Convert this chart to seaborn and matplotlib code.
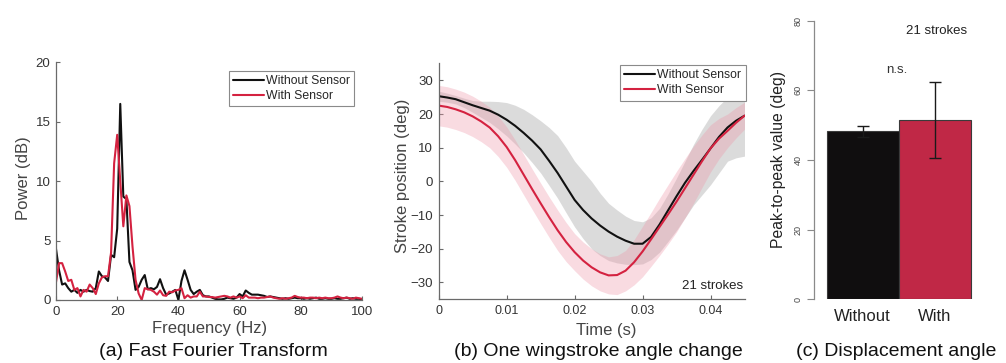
import matplotlib
matplotlib.use('Agg')
import matplotlib.pyplot as plt
import seaborn as sns

# %% Data
# (a) FFT spectrum, 1 Hz bins
freq = list(range(0, 101))
power_without = [
    4.3, 2.5, 1.3, 1.4, 1.0, 0.7, 0.85, 0.6, 0.85, 0.7,
    0.85, 0.75, 0.7, 1.0, 2.4, 2.0, 1.9, 1.6, 3.8, 3.6,
    6.0, 16.5, 8.7, 8.5, 3.2, 2.5, 0.85, 1.1, 1.7, 2.1,
    0.9, 1.0, 0.9, 1.1, 1.75, 1.0, 0.45, 0.55, 0.7, 0.85,
    0.0, 1.6, 2.5, 1.7, 0.85, 0.5, 0.7, 0.85, 0.4, 0.3,
    0.3, 0.2, 0.1, 0.05, 0.05, 0.1, 0.2, 0.15, 0.1, 0.2,
    0.5, 0.3, 0.8, 0.6, 0.45, 0.45, 0.45, 0.4, 0.35, 0.25,
    0.3, 0.25, 0.2, 0.15, 0.1, 0.15, 0.1, 0.15, 0.2, 0.15,
    0.15, 0.1, 0.15, 0.1, 0.15, 0.2, 0.1, 0.1, 0.15, 0.1,
    0.1, 0.15, 0.1, 0.1, 0.15, 0.2, 0.1, 0.15, 0.1, 0.1,
    0.05]
power_with = [
    1.5, 3.1, 3.1, 2.4, 1.6, 1.7, 0.85, 1.0, 0.3, 0.85,
    0.7, 1.3, 1.0, 0.5, 1.4, 1.9, 2.0, 2.0, 4.0, 11.5,
    13.9, 10.0, 6.2, 8.8, 7.9, 4.5, 1.7, 0.55, 0.0, 1.0,
    0.9, 0.85, 0.7, 0.45, 0.8, 0.4, 0.35, 0.7, 0.65, 0.8,
    0.85, 1.0, 0.15, 0.4, 0.2, 0.3, 0.3, 0.7, 0.3, 0.3,
    0.25, 0.25, 0.2, 0.25, 0.3, 0.35, 0.3, 0.2, 0.3, 0.2,
    0.3, 0.15, 0.4, 0.2, 0.2, 0.2, 0.15, 0.2, 0.2, 0.25,
    0.3, 0.2, 0.15, 0.1, 0.15, 0.1, 0.15, 0.2, 0.35, 0.25,
    0.2, 0.2, 0.15, 0.2, 0.2, 0.15, 0.2, 0.15, 0.2, 0.15,
    0.15, 0.2, 0.3, 0.2, 0.15, 0.2, 0.15, 0.1, 0.2, 0.15,
    0.1]

# (b) one wingstroke: mean line and shaded band, read every 1.25 ms
time_s = [0.0, 0.00125, 0.0025, 0.00375, 0.005, 0.00625, 0.0075, 0.00875,
          0.01, 0.01125, 0.0125, 0.01375, 0.015, 0.01625, 0.0175, 0.01875,
          0.02, 0.02125, 0.0225, 0.02375, 0.025, 0.02625, 0.0275, 0.02875,
          0.03, 0.03125, 0.0325, 0.03375, 0.035, 0.03625, 0.0375, 0.03875,
          0.04, 0.04125, 0.0425, 0.04375, 0.045]
stroke_without = [25.3, 24.9, 24.4, 23.5, 22.6, 21.8, 21.0, 19.8,
                  18.3, 16.5, 14.4, 12.1, 9.5, 6.1, 2.5, -1.5,
                  -5.5, -8.5, -11.0, -13.1, -14.9, -16.4, -17.6, -18.5,
                  -18.5, -16.5, -12.8, -8.6, -4.4, -0.4, 3.1, 6.4,
                  9.8, 13.2, 16.0, 18.0, 19.5]
stroke_without_hi = [26.8, 26.2, 25.5, 24.7, 24.0, 23.8, 23.8, 23.7,
                     23.4, 22.6, 21.4, 19.8, 18.0, 16.0, 13.6, 10.0,
                     6.0, 3.0, 0.0, -3.5, -6.5, -8.5, -10.3, -11.6,
                     -12.0, -10.8, -8.0, -3.7, 1.0, 6.0, 11.0, 15.5,
                     19.5, 22.5, 25.0, 26.8, 27.5]
stroke_without_lo = [23.8, 23.5, 23.0, 21.9, 20.5, 19.0, 17.5, 15.6,
                     13.5, 11.1, 8.5, 5.6, 2.5, -1.2, -5.0, -9.3,
                     -13.5, -17.0, -20.0, -22.0, -23.5, -24.2, -24.6, -24.7,
                     -24.5, -23.2, -21.0, -17.8, -14.5, -10.8, -7.0, -4.0,
                     -1.0, 2.5, 6.0, 7.0, 7.5]
stroke_with = [22.5, 22.1, 21.4, 20.5, 19.3, 17.8, 16.0, 13.4,
               10.2, 6.3, 2.0, -2.3, -6.5, -10.6, -14.5, -18.0,
               -21.0, -23.5, -25.5, -27.0, -27.9, -27.8, -26.5, -24.0,
               -20.8, -17.2, -13.5, -9.8, -6.0, -2.0, 2.0, 6.0,
               9.8, 12.7, 15.0, 17.4, 19.5]
stroke_with_hi = [28.5, 28.1, 27.4, 26.5, 25.3, 23.8, 22.0, 19.4,
                  16.2, 12.3, 8.0, 3.7, -0.5, -4.6, -8.5, -12.2,
                  -15.5, -18.0, -20.0, -21.5, -22.4, -22.0, -20.5, -17.3,
                  -13.3, -9.2, -5.0, -1.0, 3.0, 6.8, 10.5, 13.8,
                  16.8, 18.7, 20.0, 21.9, 23.5]
stroke_with_lo = [16.5, 16.1, 15.4, 14.5, 13.3, 11.8, 10.0, 7.4,
                  4.2, 0.3, -4.0, -8.3, -12.5, -16.6, -20.5, -23.8,
                  -26.5, -29.0, -31.0, -32.5, -33.4, -33.6, -32.5, -30.7,
                  -28.3, -25.2, -22.0, -18.6, -15.0, -10.8, -6.5, -1.8,
                  2.8, 6.7, 10.0, 12.9, 15.5]

# (c) peak-to-peak displacement
groups = ['Without', 'With']
p2p_mean = [48.2, 51.6]
p2p_lo = [46.6, 40.6]
p2p_hi = [49.7, 62.3]

black_c = '#111111'
red_c = '#d42240'
bar_colors = ['#100e0f', '#c02846']
axis_c = '#6a6a6a'
text_c = '#333333'

# %% Style
sns.set_style('ticks')
plt.rcParams['font.family'] = ['Liberation Sans', 'DejaVu Sans']

W, H = 1006, 363
fig = plt.figure(figsize=(W / 100, H / 100), dpi=100)


def box(x0, y0, x1, y1):
    # pixel box -> figure fraction
    return [x0 / W, 1 - y1 / H, (x1 - x0) / W, (y1 - y0) / H]


def matlab_axes(ax):
    for s in ['top', 'right']:
        ax.spines[s].set_visible(False)
    for s in ['left', 'bottom']:
        ax.spines[s].set_color(axis_c)
        ax.spines[s].set_linewidth(0.9)
    ax.tick_params(direction='in', length=3, width=0.8, color=axis_c,
                   labelcolor=text_c, labelsize=9.5, pad=4)


# %% (a) FFT
ax1 = fig.add_axes(box(56, 62.3, 362, 300))
sns.lineplot(x=freq, y=power_without, color=black_c, lw=1.5,
             label='Without Sensor', ax=ax1)
sns.lineplot(x=freq, y=power_with, color=red_c, lw=1.5,
             label='With Sensor', ax=ax1)
ax1.set_xlim(0, 100)
ax1.set_ylim(0, 20)
ax1.set_xticks([0, 20, 40, 60, 80, 100])
ax1.set_yticks([0, 5, 10, 15, 20])
matlab_axes(ax1)
leg = ax1.legend(loc='upper right', bbox_to_anchor=(0.975, 0.965), fontsize=8.8,
                 frameon=True, fancybox=False, framealpha=1, edgecolor='#8a8a8a',
                 handlelength=2.5, handletextpad=0.2, borderpad=0.35,
                 labelspacing=0.25, borderaxespad=0)
leg.get_frame().set_linewidth(0.8)
ax1.set_xlabel('')
ax1.set_ylabel('')
fig.text(210 / W, 1 - 329 / H, 'Frequency (Hz)', ha='center', va='center',
         fontsize=12, color='#444444')
fig.text(24 / W, 1 - 178 / H, 'Power (dB)', ha='center', va='center',
         rotation=90, fontsize=12, color='#444444')
fig.text(213 / W, 1 - 352 / H, '(a) Fast Fourier Transform', ha='center',
         va='center', fontsize=14, color='#111111')

# %% (b) wingstroke
ax2 = fig.add_axes(box(438.7, 63.5, 744.5, 299.3))
ax2.fill_between(time_s, stroke_without_lo, stroke_without_hi,
                 color='#c4c4c4', alpha=0.6, lw=0)
ax2.fill_between(time_s, stroke_with_lo, stroke_with_hi,
                 color='#ee98aa', alpha=0.35, lw=0)
sns.lineplot(x=time_s, y=stroke_without, color=black_c, lw=1.5,
             label='Without Sensor', ax=ax2)
sns.lineplot(x=time_s, y=stroke_with, color=red_c, lw=1.5,
             label='With Sensor', ax=ax2)
ax2.set_xlim(0, 0.045)
ax2.set_ylim(-35, 35)
ax2.set_xticks([0, 0.01, 0.02, 0.03, 0.04])
ax2.set_xticklabels(['0', '0.01', '0.02', '0.03', '0.04'])
ax2.set_yticks([-30, -20, -10, 0, 10, 20, 30])
matlab_axes(ax2)
ax2.tick_params(axis='x', labelsize=9)
leg2 = ax2.legend(loc='upper right', bbox_to_anchor=(1.004, 0.994), fontsize=8.8,
                  frameon=True, fancybox=False, framealpha=1, edgecolor='#8a8a8a',
                  handlelength=2.5, handletextpad=0.2, borderpad=0.35,
                  labelspacing=0.25, borderaxespad=0)
leg2.get_frame().set_linewidth(0.8)
ax2.text(0.995, 0.058, '21 strokes', transform=ax2.transAxes, ha='right',
         va='center', fontsize=9.5, color='#222222')
ax2.set_xlabel('')
ax2.set_ylabel('')
fig.text(606 / W, 1 - 331 / H, 'Time (s)', ha='center', va='center',
         fontsize=12, color='#444444')
fig.text(402 / W, 1 - 176 / H, 'Stroke position (deg)', ha='center',
         va='center', rotation=90, fontsize=12, color='#444444')
fig.text(598 / W, 1 - 352 / H, '(b) One wingstroke angle change', ha='center',
         va='center', fontsize=14, color='#111111')

# %% (c) bars
ax3 = fig.add_axes(box(814, 20.7, 983.4, 299.3))
sns.barplot(x=groups, y=p2p_mean, hue=groups, palette=bar_colors, width=1.0,
            saturation=1, edgecolor='#3a3a3a', linewidth=0.8, legend=False,
            ax=ax3)
for i in range(len(groups)):
    ax3.errorbar(i, p2p_mean[i],
                 yerr=[[p2p_mean[i] - p2p_lo[i]], [p2p_hi[i] - p2p_mean[i]]],
                 color='#1a1a1a', lw=1.0, capsize=4.2, capthick=1.0)
ax3.set_xlim(-0.676, 1.676)
ax3.set_ylim(0, 80)
ax3.set_yticks([0, 20, 40, 60, 80])
for s in ['top', 'right', 'bottom']:
    ax3.spines[s].set_visible(False)
ax3.spines['left'].set_color('#8a8a8a')
ax3.spines['left'].set_linewidth(0.9)
ax3.tick_params(axis='y', direction='out', length=5, width=0.8, color='#8a8a8a',
                labelcolor='#444444', labelsize=6.5, pad=3)
for lab in ax3.get_yticklabels():
    lab.set_rotation(90)
    lab.set_va('center')
ax3.tick_params(axis='x', length=0, labelsize=12, labelcolor='#222222', pad=7)
ax3.text(0.48, 65.7, 'n.s.', ha='center', va='center', fontsize=9.5,
         color='#333333')
ax3.text(1.03, 77.1, '21 strokes', ha='center', va='center', fontsize=9.5,
         color='#222222')
ax3.set_xlabel('')
ax3.set_ylabel('')
fig.text(779 / W, 1 - 159 / H, 'Peak-to-peak value (deg)', ha='center',
         va='center', rotation=90, fontsize=11.3, color='#222222')
fig.text(896 / W, 1 - 352 / H, '(c) Displacement angle', ha='center',
         va='center', fontsize=14, color='#111111')

fig.savefig('out.png', dpi=100)
